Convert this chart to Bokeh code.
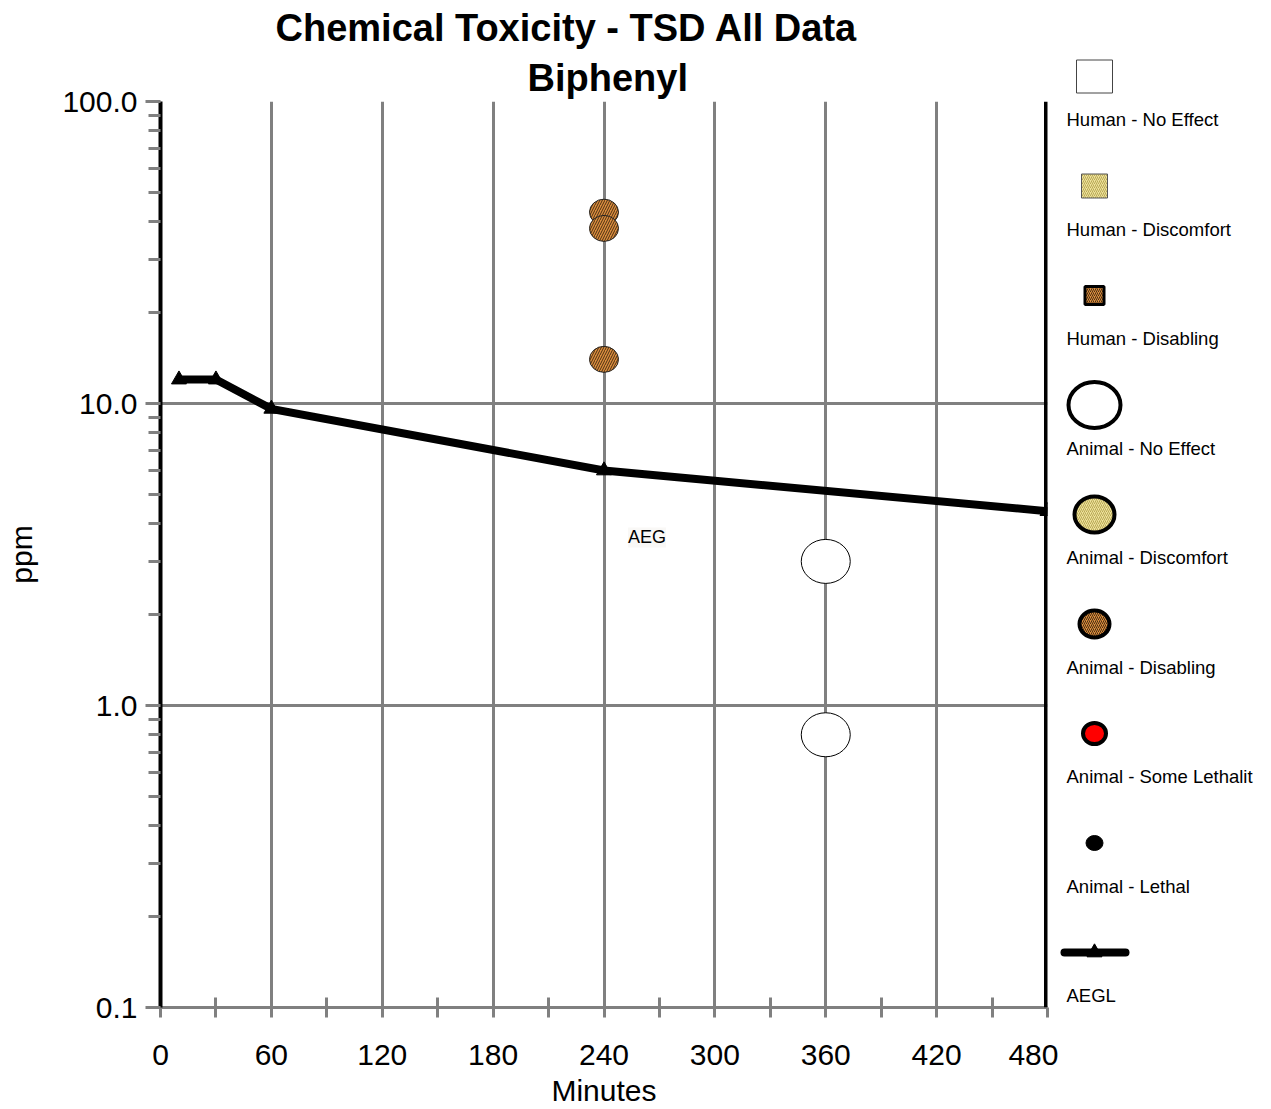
from bokeh.plotting import figure
from bokeh.layouts import row, column
from bokeh.models import (FixedTicker, Range1d, Span, Label, ColumnDataSource,
                          CustomJSTickFormatter, Title)
from bokeh.core.properties import value
from bokeh.embed import file_html
from bokeh.resources import INLINE

# ---------------- data ----------------
title_line1 = "Chemical Toxicity - TSD All Data"
title_line2 = "Biphenyl"
x_ticks = [0, 60, 120, 180, 240, 300, 360, 420, 480]
x_minor = [30, 90, 150, 210, 270, 330, 390, 450]
y_ticks = [0.1, 1, 10, 100]
y_tick_labels = ["0.1", "1.0", "10.0", "100.0"]

animal_disabling_x = [240, 240, 240]
animal_disabling_y = [43, 38, 14]

animal_noeffect_x = [360, 360]
animal_noeffect_y = [3.0, 0.8]

aegl_x = [10, 30, 60, 240, 480]
aegl_y = [12.0, 12.0, 9.6, 6.0, 4.4]

legend_labels = ["Human - No Effect", "Human - Discomfort", "Human - Disabling",
                 "Animal - No Effect", "Animal - Discomfort", "Animal - Disabling",
                 "Animal - Some Lethalit", "Animal - Lethal", "AEGL"]

FONT = "Liberation Sans"
GRAY = "#808080"
ORANGE = "#dc8e3e"
HATCH_DARK = "#4a2e12"
KHAKI = "#eee29c"
KHAKI_HATCH = "#b8a855"

minor_y = []
for d in [0.1, 1, 10]:
    for k in range(2, 10):
        minor_y.append(round(d * k, 6))

H = 1109

# ---------------- main plot ----------------
p = figure(width=1058, height=H, y_axis_type="log",
           x_range=Range1d(0, 480), y_range=Range1d(0.1, 100),
           output_backend="svg", toolbar_location=None,
           min_border_left=160, min_border_right=11,
           min_border_top=101, min_border_bottom=102)
p.outline_line_color = None
p.background_fill_color = "white"
p.border_fill_color = "white"

p.xaxis.ticker = FixedTicker(ticks=x_ticks, minor_ticks=x_minor)
p.yaxis.ticker = FixedTicker(ticks=y_ticks, minor_ticks=minor_y)
p.yaxis.formatter = CustomJSTickFormatter(
    args=dict(vals=y_ticks, labs=y_tick_labels),
    code="""
    for (let i = 0; i < vals.length; i++) {
        if (Math.abs(Math.log10(tick) - Math.log10(vals[i])) < 1e-6) return labs[i];
    }
    return tick.toString();
    """)

for g in (p.xgrid, p.ygrid):
    g.grid_line_color = GRAY
    g.grid_line_width = 3
p.xgrid.ticker = FixedTicker(ticks=x_ticks)
p.ygrid.ticker = FixedTicker(ticks=y_ticks)

# axes styling
p.yaxis.axis_line_color = "black"
p.yaxis.axis_line_width = 4
p.yaxis.major_tick_line_color = GRAY
p.yaxis.major_tick_line_width = 3
p.yaxis.major_tick_out = 15
p.yaxis.major_tick_in = 0
p.yaxis.minor_tick_line_color = GRAY
p.yaxis.minor_tick_line_width = 3
p.yaxis.minor_tick_out = 12
p.yaxis.minor_tick_in = 0
p.yaxis.major_label_text_font = FONT
p.yaxis.major_label_text_font_size = "30px"
p.yaxis.major_label_text_color = "black"
p.yaxis.major_label_standoff = 8
p.yaxis.axis_label = "ppm"
p.yaxis.axis_label_text_font = FONT
p.yaxis.axis_label_text_font_size = "30px"
p.yaxis.axis_label_text_font_style = "normal"
p.yaxis.axis_label_text_color = "black"
p.yaxis.axis_label_standoff = 21

p.xaxis.axis_line_color = GRAY
p.xaxis.axis_line_width = 3
p.xaxis.major_tick_line_color = GRAY
p.xaxis.major_tick_line_width = 3
p.xaxis.major_tick_out = 10
p.xaxis.major_tick_in = 0
p.xaxis.minor_tick_line_color = GRAY
p.xaxis.minor_tick_line_width = 3
p.xaxis.minor_tick_out = 10
p.xaxis.minor_tick_in = 10
p.xaxis.major_label_text_font = FONT
p.xaxis.major_label_text_font_size = "30px"
p.xaxis.major_label_text_color = "black"
p.xaxis.major_label_standoff = 27
p.xaxis.axis_label = "Minutes"
p.xaxis.axis_label_text_font = FONT
p.xaxis.axis_label_text_font_size = "30px"
p.xaxis.axis_label_text_font_style = "normal"
p.xaxis.axis_label_text_color = "black"
p.xaxis.axis_label_standoff = 6

# titles (first added is nearest the frame)
p.add_layout(Title(text=title_line2, align="left", offset=367, standoff=5,
                   text_font=FONT, text_font_size="38px", text_font_style="bold",
                   text_color="black"), "above")
p.add_layout(Title(text=title_line1, align="left", offset=115, standoff=7,
                   text_font=FONT, text_font_size="38px", text_font_style="bold",
                   text_color="black"), "above")

# right black border at 480
p.add_layout(Span(location=480, dimension="height", line_color="black", line_width=7))

# AEGL line
aegl_src = ColumnDataSource(dict(x=aegl_x, y=aegl_y))
p.line("x", "y", source=aegl_src, line_color="black", line_width=8, line_join="miter")
p.scatter("x", "y", source=aegl_src, marker="triangle", size=15,
          fill_color="black", line_color="black")

# Animal - Disabling points
dis_src = ColumnDataSource(dict(x=animal_disabling_x, y=animal_disabling_y))
p.ellipse("x", "y", source=dis_src, width=29, height=26,
          width_units="screen", height_units="screen",
          fill_color=ORANGE, hatch_pattern="/", hatch_color=HATCH_DARK,
          hatch_scale=5, hatch_weight=1, line_color="#222222", line_width=1)

# Animal - No Effect points
ne_src = ColumnDataSource(dict(x=animal_noeffect_x, y=animal_noeffect_y))
p.ellipse("x", "y", source=ne_src, width=49, height=44,
          width_units="screen", height_units="screen",
          fill_color="white", line_color="black", line_width=1)

# AEG label
p.add_layout(Label(x=253, y=3.6, text="AEG", text_font=FONT, text_font_size="18px",
                   text_baseline="middle", text_color="black",
                   background_fill_color="#f9f8f6"))

# ---------------- legend panel ----------------
X0 = 1058
LW = 213
lg = figure(width=LW, height=H, x_range=Range1d(X0, X0 + LW),
            y_range=Range1d(H, 0), output_backend="svg", toolbar_location=None,
            min_border=0, min_border_left=0, min_border_right=0,
            min_border_top=0, min_border_bottom=0)
lg.axis.visible = False
lg.grid.visible = False
lg.outline_line_color = None
lg.background_fill_color = "white"
lg.border_fill_color = "white"

step = 109.5
my = [76 + step * i for i in range(len(legend_labels))]
mx = 1094

# squares
lg.rect([mx], [my[0]], width=36, height=33, width_units="screen", height_units="screen",
        fill_color="white", line_color="#444444", line_width=1)
lg.rect([mx], [my[1]], width=26, height=24, width_units="screen", height_units="screen",
        fill_color=KHAKI, hatch_pattern="/", hatch_color=KHAKI_HATCH, hatch_scale=4,
        hatch_weight=1, line_color="#555555", line_width=1)
lg.rect([mx], [my[2]], width=19, height=18, width_units="screen", height_units="screen",
        fill_color=ORANGE, hatch_pattern="/", hatch_color=HATCH_DARK, hatch_scale=4,
        hatch_weight=1, line_color="black", line_width=3)
# circles
lg.ellipse([mx], [my[3]], width=52, height=46, width_units="screen", height_units="screen",
           fill_color="white", line_color="black", line_width=4)
lg.ellipse([mx], [my[4]], width=40, height=36, width_units="screen", height_units="screen",
           fill_color=KHAKI, hatch_pattern="/", hatch_color=KHAKI_HATCH, hatch_scale=4,
           hatch_weight=1, line_color="black", line_width=4)
lg.ellipse([mx], [my[5]], width=30, height=27, width_units="screen", height_units="screen",
           fill_color=ORANGE, hatch_pattern="/", hatch_color=HATCH_DARK, hatch_scale=4,
           hatch_weight=1, line_color="black", line_width=4)
lg.ellipse([mx], [my[6]], width=23, height=21, width_units="screen", height_units="screen",
           fill_color="red", line_color="black", line_width=4)
lg.ellipse([mx], [my[7]], width=17, height=15, width_units="screen", height_units="screen",
           fill_color="black", line_color="black", line_width=1)
# AEGL line symbol
lg.line([1064, 1125], [my[8], my[8]], line_color="black", line_width=8, line_cap="round")
lg.scatter([mx], [my[8]], marker="triangle", size=15, fill_color="black", line_color="black")

lsrc = ColumnDataSource(dict(x=[1066] * len(legend_labels),
                             y=[v + 43 for v in my], t=legend_labels))
lg.text("x", "y", text="t", source=lsrc, text_font=value(FONT), text_font_size="18.5px",
        text_baseline="middle", text_align="left", text_color="black")

layout = row(p, column(lg), spacing=0)
open("out.html", "w").write(file_html(layout, INLINE))
